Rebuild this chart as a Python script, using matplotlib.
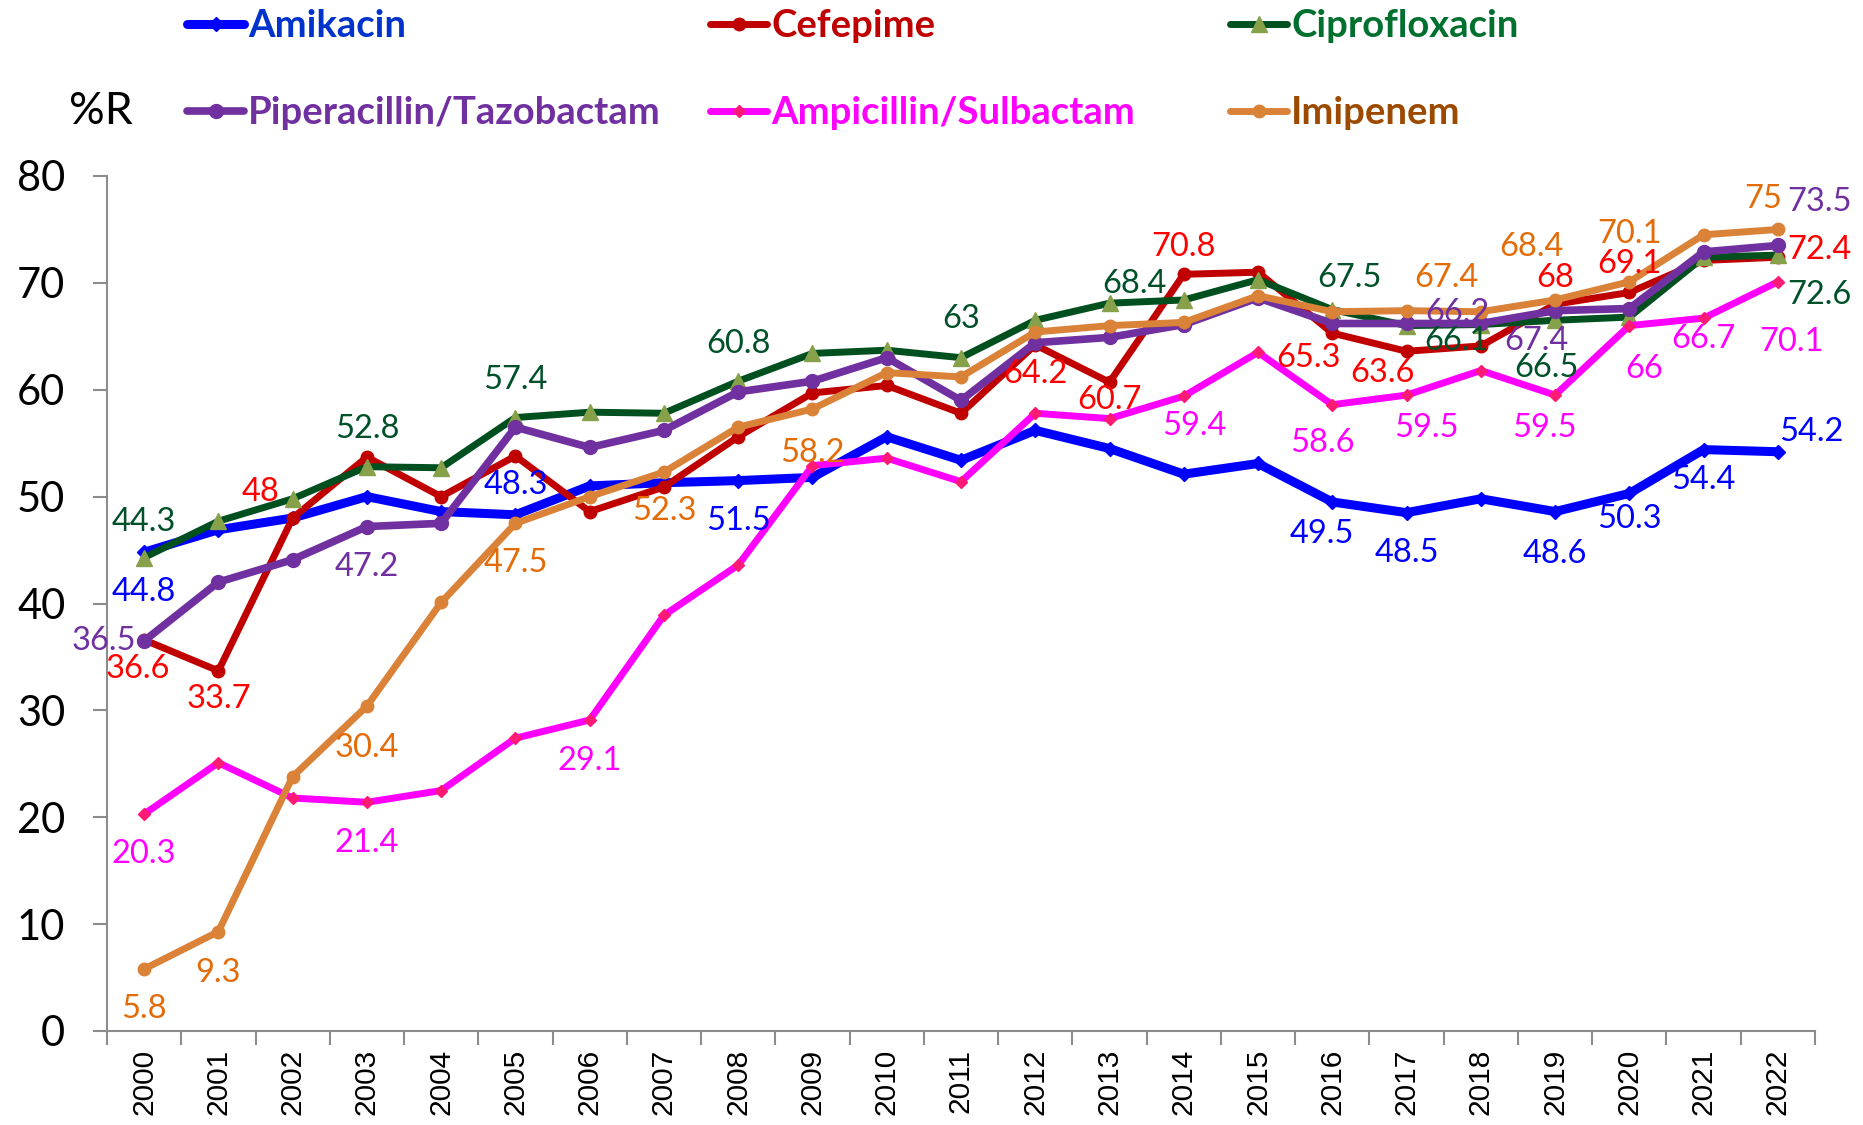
import matplotlib.pyplot as plt

years = [str(y) for y in range(2000, 2023)]

amikacin = [44.8, 46.9, 48.0, 50.0, 48.6, 48.3, 51.0, 51.3, 51.5, 51.8, 55.6, 53.4,
            56.2, 54.5, 52.1, 53.1, 49.5, 48.5, 49.8, 48.6, 50.3, 54.4, 54.2]
cefepime = [36.6, 33.7, 48.0, 53.7, 50.0, 53.8, 48.6, 50.9, 55.6, 59.7, 60.4, 57.8,
            64.2, 60.7, 70.8, 71.0, 65.3, 63.6, 64.1, 68.0, 69.1, 72.1, 72.4]
ciprofloxacin = [44.3, 47.7, 49.8, 52.8, 52.7, 57.4, 57.9, 57.8, 60.8, 63.4, 63.7, 63.0,
                 66.5, 68.1, 68.4, 70.3, 67.5, 66.0, 66.1, 66.5, 66.8, 72.4, 72.6]
pip_tazo = [36.5, 42.0, 44.1, 47.2, 47.5, 56.5, 54.6, 56.2, 59.8, 60.8, 63.0, 59.0,
            64.4, 64.9, 66.1, 68.6, 66.2, 66.2, 66.2, 67.4, 67.6, 72.9, 73.5]
amp_sulb = [20.3, 25.1, 21.8, 21.4, 22.5, 27.4, 29.1, 38.9, 43.6, 52.9, 53.6, 51.4,
            57.8, 57.3, 59.4, 63.5, 58.6, 59.5, 61.8, 59.5, 66.0, 66.7, 70.1]
imipenem = [5.8, 9.3, 23.8, 30.4, 40.1, 47.5, 50.0, 52.3, 56.5, 58.2, 61.6, 61.2,
            65.4, 66.0, 66.3, 68.8, 67.3, 67.4, 67.3, 68.4, 70.1, 74.5, 75.0]

# which points carry a value label, with label offset in pixels (dx, dy)
amikacin_lbl = {2000: (0, -40), 2005: (0, 30), 2008: (0, -40), 2016: (-10, -32),
                2017: (0, -40), 2019: (0, -42), 2020: (0, -26), 2021: (0, -30), 2022: (33, 20)}
cefepime_lbl = {2000: (-6, -29), 2001: (0, -28), 2002: (-32, 26), 2012: (0, -29),
                2013: (0, -18), 2014: (0, 27), 2016: (-24, -25), 2017: (-24, -22),
                2019: (0, 26), 2020: (0, 28), 2022: (42, 7)}
cipro_lbl = {2000: (0, 36), 2003: (0, 38), 2005: (0, 38), 2008: (0, 37), 2011: (0, 39),
             2014: (-49, 16), 2016: (17, 32), 2018: (-24, -16), 2019: (-9, -48), 2022: (42, -40)}
pip_lbl = {2000: (-40, 0), 2003: (0, -40), 2018: (-23, 10), 2019: (-19, -30), 2022: (42, 43)}
amp_lbl = {2000: (0, -40), 2003: (0, -41), 2006: (0, -41), 2014: (11, -30), 2016: (-10, -38),
           2017: (20, -33), 2019: (-11, -33), 2020: (15, -43), 2021: (0, -21), 2022: (14, -60)}
imi_lbl = {2000: (0, -40), 2001: (0, -41), 2003: (0, -42), 2005: (0, -40), 2007: (0, -39),
           2009: (0, -44), 2017: (40, 33), 2019: (-24, 53), 2020: (0, 48), 2022: (-15, 30)}

series = [
    # name, values, line colour, marker, marker size, marker colour, lw, label colour, legend colour, labels
    ("Amikacin", amikacin, "#0000FF", "D", 7, "#0000FF", 6.5, "#0000FF", "#0033CC", amikacin_lbl),
    ("Cefepime", cefepime, "#C00000", "o", 9, "#C00000", 5, "#FF0000", "#C00000", cefepime_lbl),
    ("Ciprofloxacin", ciprofloxacin, "#00501F", "^", 12, "#86A14A", 5, "#00512A", "#00702F", cipro_lbl),
    ("Piperacillin/Tazobactam", pip_tazo, "#7030A0", "o", 10, "#7030A0", 5.5, "#7030A0", "#7030A0", pip_lbl),
    ("Ampicillin/Sulbactam", amp_sulb, "#FF00FF", "D", 6.5, "#FF1A75", 5, "#FF00FF", "#FF00FF", amp_lbl),
    ("Imipenem", imipenem, "#DB8239", "o", 9, "#DB8239", 5, "#E36C09", "#9C4A00", imi_lbl),
]

fig = plt.figure(figsize=(18.63, 11.25), dpi=100)
ax = fig.add_axes([107 / 1863, 94 / 1125, 1708 / 1863, 855 / 1125])

x = list(range(len(years)))
handles = []
for name, vals, col, mk, ms, mcol, lw, lcol, gcol, lbls in series:
    h, = ax.plot(x, vals, color=col, lw=lw, marker=mk, markersize=ms,
                 markerfacecolor=mcol, markeredgecolor=mcol, solid_capstyle="round",
                 solid_joinstyle="round", label=name)
    handles.append(h)
    for yr, (dx, dy) in lbls.items():
        i = yr - 2000
        v = vals[i]
        ax.annotate(f"{v:g}", (i, v), xytext=(dx, dy), textcoords="offset pixels",
                    ha="center", va="center", color=lcol, fontsize=23.5,
                    family="Lato", zorder=10)

ax.set_xlim(-0.5, len(years) - 0.5)
ax.set_ylim(0, 80)
ax.set_yticks(range(0, 81, 10))
ax.tick_params(axis="y", labelsize=30, length=10, width=1.5, color="#8C8C8C", pad=20)
for t in ax.get_yticklabels():
    t.set_family("Lato")

ax.set_xticks([i - 0.5 for i in range(len(years) + 1)])
ax.set_xticklabels([])
ax.tick_params(axis="x", which="major", length=10, width=1.5, color="#8C8C8C")
ax.set_xticks(x, minor=True)
ax.set_xticklabels(years, minor=True, rotation=90, fontsize=21.5, family="Liberation Sans")
ax.tick_params(axis="x", which="minor", length=0, pad=13)

for s in ["top", "right"]:
    ax.spines[s].set_visible(False)
for s in ["left", "bottom"]:
    ax.spines[s].set_color("#8C8C8C")
    ax.spines[s].set_linewidth(1.5)

fig.text(101 / 1863, 1 - 111 / 1125, "%R", fontsize=32, family="Lato",
         ha="center", va="center")

# legend: three columns of two rows
col_x = [187, 710, 1230]
for c in range(3):
    hs = [handles[c], handles[c + 3]]
    leg = fig.legend(handles=hs, loc="upper left",
                     bbox_to_anchor=(col_x[c] / 1863, 1 - 9 / 1125),
                     frameon=False, borderpad=0, borderaxespad=0, handlelength=1.5,
                     handletextpad=0.1, labelspacing=1.4, numpoints=1,
                     prop={"family": "Lato", "weight": "bold", "size": 27.5})
    for t, h in zip(leg.get_texts(), hs):
        gcol = [s[8] for s in series if s[0] == h.get_label()][0]
        t.set_color(gcol)

fig.savefig("out.png", dpi=100)
